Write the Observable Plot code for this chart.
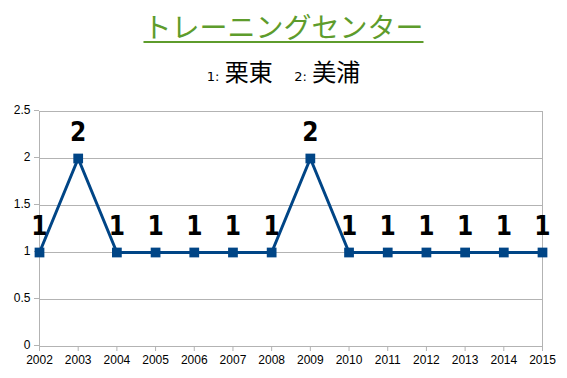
<!DOCTYPE html>
<html><head><meta charset="utf-8">
<script src="https://cdn.jsdelivr.net/npm/d3@7"></script>
<script src="https://cdn.jsdelivr.net/npm/@observablehq/plot@0.6"></script>
<style>
body{margin:0;background:#fff;}
#wrap{position:relative;width:567px;height:378px;}
#title{position:absolute;left:0;width:567px;top:8px;text-align:center;font-family:"Noto Sans CJK JP",sans-serif;font-size:28px;line-height:36px;color:#5e9c2c;}
#title span{text-decoration:underline;text-decoration-thickness:2px;text-underline-offset:3px;}
#sub{position:absolute;left:0;width:567px;top:55px;text-align:center;font-family:"Noto Sans CJK JP",sans-serif;font-size:24px;line-height:32px;color:#000;}
#sub small{font-size:13px;font-family:"DejaVu Sans",sans-serif;}
</style></head>
<body><div id="wrap"><div id="title"><span>トレーニングセンター</span></div>
<div id="sub"><small>1:</small>&nbsp;栗東&nbsp;&nbsp;&nbsp;&nbsp;<small>2:</small>&nbsp;美浦</div>
<div id="chart"></div></div>
<script>
const years = [2002,2003,2004,2005,2006,2007,2008,2009,2010,2011,2012,2013,2014,2015];
const values = [1,2,1,1,1,1,1,2,1,1,1,1,1,1];
const yTicks = [0,0.5,1,1.5,2,2.5];
const data = years.map((y,i)=>({year:y,value:values[i]}));
const chart = Plot.plot({
  width:567, height:378,
  marginTop:111, marginBottom:32, marginLeft:39, marginRight:25,
  style:{fontFamily:"Liberation Sans, Arial, sans-serif", fontSize:"12px", color:"#000", background:"#fff"},
  x:{domain:[2002,2015], label:null},
  y:{domain:[0,2.5], label:null},
  marks:[
    Plot.gridY(yTicks,{stroke:"#b3b3b3", strokeOpacity:1}),
    Plot.ruleX([2002,2015],{stroke:"#b3b3b3", y1:0, y2:2.5}),
    Plot.axisX({ticks:years, tickFormat:"d", tickSize:5, stroke:"#b3b3b3", tickPadding:4, fill:"#000"}),
    Plot.axisY({ticks:yTicks, tickFormat:d=>String(d), tickSize:5, stroke:"#b3b3b3", tickPadding:4, fill:"#000", dy:-1}),
    Plot.line(data,{x:"year", y:"value", stroke:"#004586", strokeWidth:3}),
    Plot.dot(data,{x:"year", y:"value", symbol:"square", r:5.5, fill:"#004586", stroke:"none"}),
    Plot.text(data,{x:"year", y:"value", text:d=>String(d.value), dy:-26, fontSize:26, fontWeight:"bold", fontFamily:"Liberation Sans Narrow, DejaVu Sans Condensed, sans-serif", fill:"#000"})
  ]
});
document.getElementById("chart").appendChild(chart);
</script></body></html>
